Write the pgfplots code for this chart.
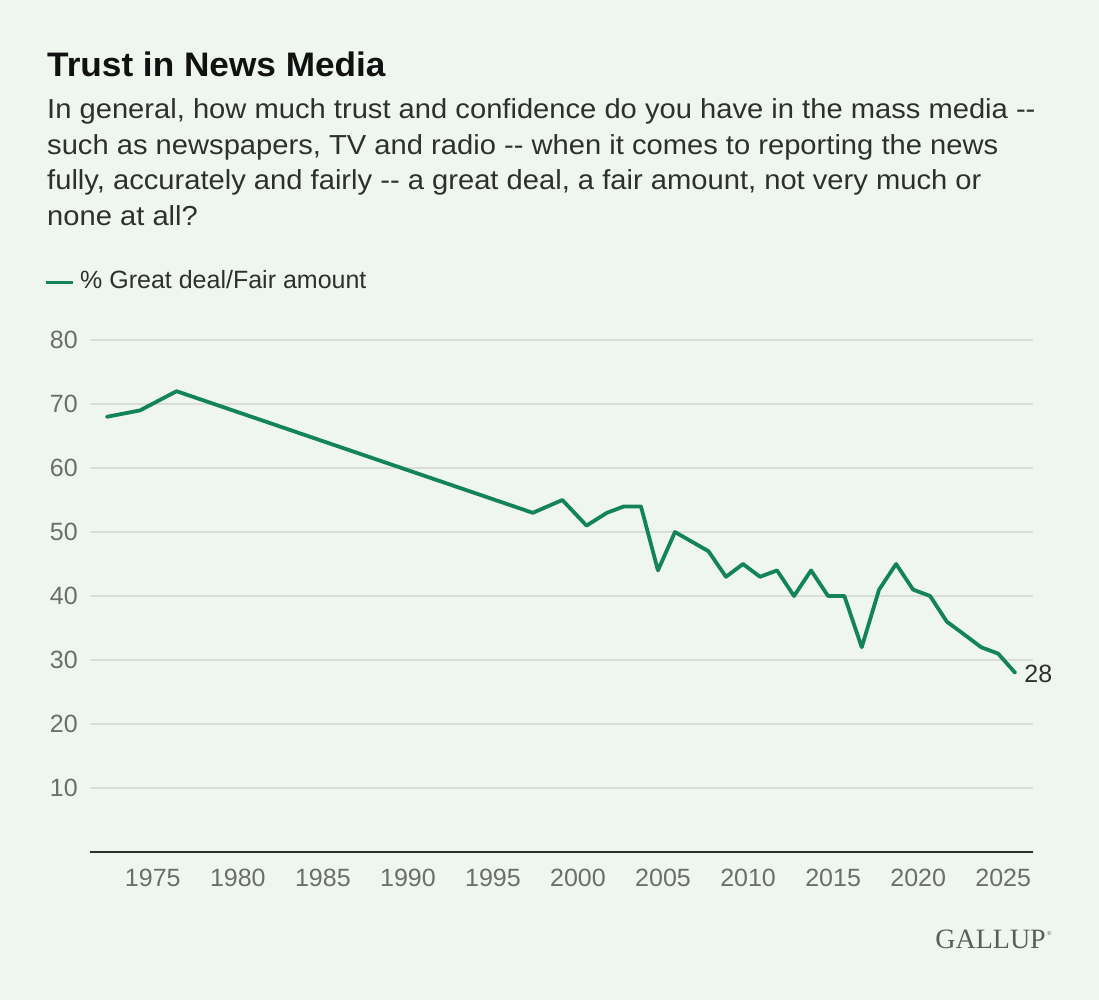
\documentclass[border=0pt]{standalone}
\usepackage{fontspec}
\setmainfont{Liberation Sans}[Ligatures=TeXOff]
\newfontfamily\subfont{Liberation Sans}[Ligatures=TeXOff, FakeStretch=1.06]
\newfontfamily\titlefont{Liberation Sans Bold}[Ligatures=TeXOff, FakeStretch=1.035]
\newfontfamily\seriffont{Liberation Serif}
\usepackage{pgfplots}
\pgfplotsset{compat=1.18}
\definecolor{bg}{HTML}{EFF5EF}
\definecolor{gline}{HTML}{13845A}
\definecolor{gridc}{HTML}{D8DDD8}
\definecolor{tickc}{HTML}{6B6E6B}
\definecolor{textc}{HTML}{2E302E}
\definecolor{titlec}{HTML}{111111}
\definecolor{logoc}{HTML}{5A5D5A}
\begin{document}
\begin{tikzpicture}
\fill[bg] (0,0) rectangle (1099bp,-1000bp);
\node[anchor=base west, inner sep=0, text=titlec, font=\titlefont\fontsize{34bp}{40bp}\selectfont] at (47bp,-76bp) {Trust in News Media};
\begin{scope}[every node/.style={anchor=base west, inner sep=0, text=textc, font=\subfont\fontsize{27.5bp}{34bp}\selectfont}]
\node at (47bp,-118.5bp) {In general, how much trust and confidence do you have in the mass media --};
\node at (47bp,-154bp) {such as newspapers, TV and radio -- when it comes to reporting the news};
\node at (47bp,-189.5bp) {fully, accurately and fairly -- a great deal, a fair amount, not very much or};
\node at (47bp,-225bp) {none at all?};
\end{scope}
\draw[gline, line width=3.8bp] (46bp,-282.5bp) -- (73bp,-282.5bp);
\node[anchor=base west, inner sep=0, text=textc, font=\fontsize{25bp}{30bp}\selectfont] at (80bp,-288.5bp) {\% Great deal/Fair amount};
\begin{axis}[
  at={(90bp,-852bp)}, anchor=south west,
  scale only axis, width=943bp, height=512bp,
  xmin=1971.31, xmax=2026.75, ymin=0, ymax=80,
  axis x line=bottom, axis y line=left,
  x axis line style={-, draw=textc, line width=2bp},
  y axis line style={draw=none},
  major tick length=0,
  xtick={1975,1980,...,2025},
  ytick={10,20,...,80},
  ymajorgrids, grid style={gridc, line width=1.6bp},
  /pgf/number format/.cd, 1000 sep={}, assume math mode=true, /pgfplots/.cd,
  ticklabel style={text=tickc, font=\fontsize{25bp}{30bp}\selectfont, inner sep=0},
  yticklabel style={anchor=east, xshift=-12bp},
  xticklabel style={anchor=north, yshift=-17bp},
  clip=false,
]
\addplot[gline, line width=3.8bp, line join=round, line cap=round, mark=none] coordinates {
(1972.3,68) (1974.25,69) (1976.4,72) (1997.34,53) (1999.08,55) (2000.5,51)
(2001.7,53) (2002.7,54) (2003.7,54) (2004.7,44) (2005.7,50) (2007.67,47)
(2008.7,43) (2009.7,45) (2010.7,43) (2011.7,44) (2012.7,40) (2013.7,44)
(2014.7,40) (2015.66,40) (2016.68,32) (2017.7,41) (2018.7,45) (2019.7,41)
(2020.7,40) (2021.68,36) (2022.7,34) (2023.7,32) (2024.7,31) (2025.7,28)
};
\node[anchor=west, inner sep=0, text=textc, font=\fontsize{25bp}{30bp}\selectfont, xshift=9bp, yshift=-1bp] at (axis cs:2025.7,28) {28};
\end{axis}
\node[anchor=base east, inner sep=0, text=logoc, font=\seriffont\fontsize{28bp}{30bp}\selectfont] at (1046bp,-948bp) {GALLUP};
\node[anchor=base west, inner sep=0, text=logoc, font=\seriffont\fontsize{6bp}{7bp}\selectfont] at (1047bp,-935bp) {®};
\end{tikzpicture}
\end{document}
